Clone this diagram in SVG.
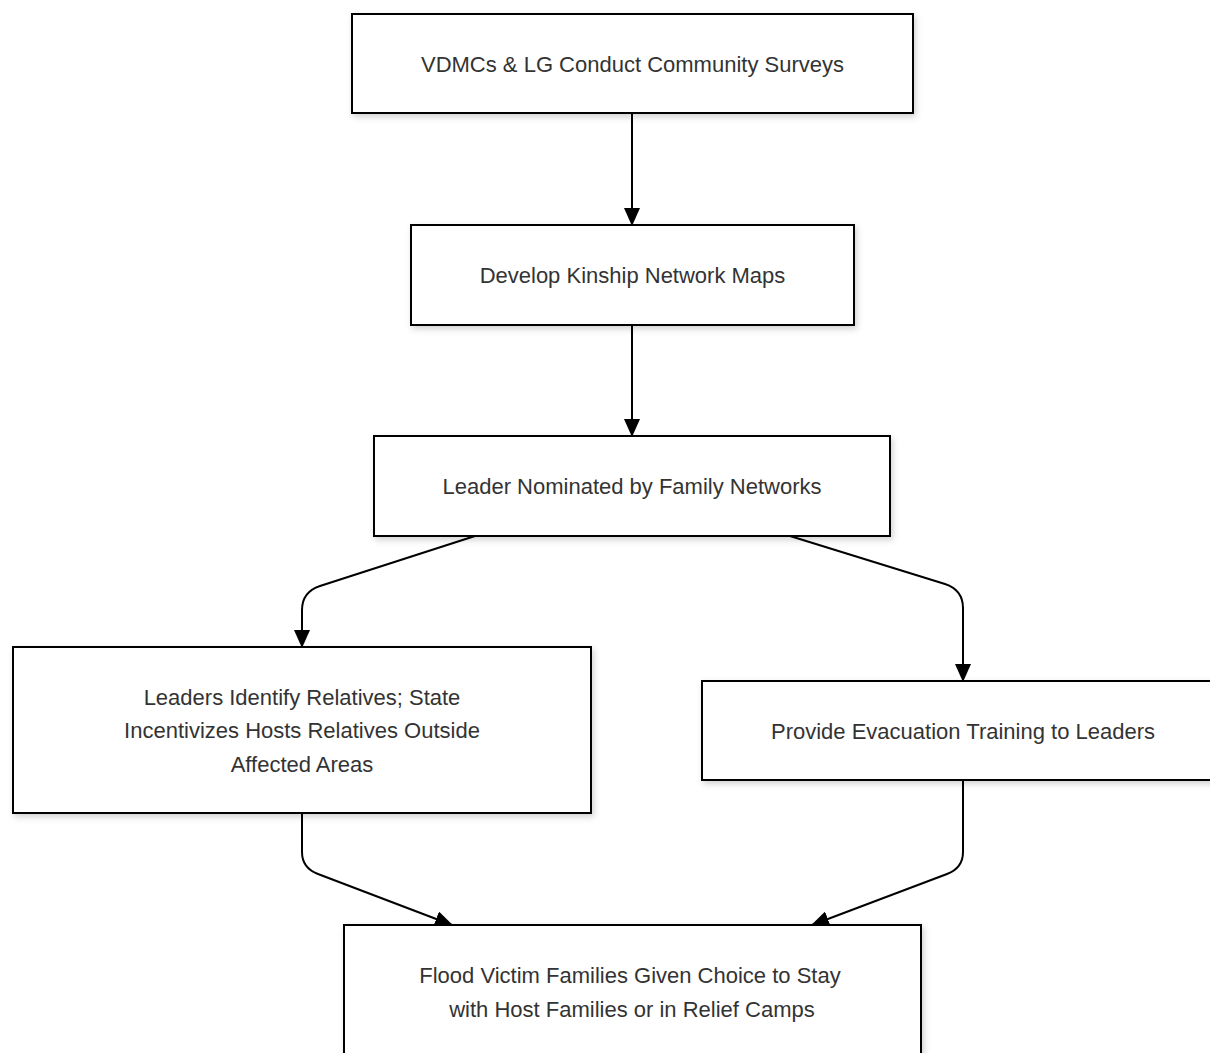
<svg xmlns="http://www.w3.org/2000/svg" width="1210" height="1053" viewBox="0 0 1210 1053">
  <style>
    .box { fill: #ffffff; stroke: #000000; stroke-width: 2; filter: url(#shadow); }
    .label { font-family: "Liberation Sans", Arial, sans-serif; font-size: 22px; fill: #333333; text-anchor: middle; }
    .edge { fill: none; stroke: #000000; stroke-width: 2; marker-end: url(#arrow); }
  </style>
  <defs>
    <filter id="shadow" x="-10%" y="-10%" width="120%" height="130%">
      <feDropShadow dx="2" dy="3" stdDeviation="3" flood-color="#000000" flood-opacity="0.18"/>
    </filter>
    <marker id="arrow" viewBox="0 0 18 16" refX="17" refY="8" markerWidth="18" markerHeight="16" markerUnits="userSpaceOnUse" orient="auto">
      <path d="M0,0 L18,8 L0,16 Z" fill="#000000"/>
    </marker>
  </defs>

  <!-- connectors -->
  <g id="edges">
    <path class="edge" d="M632,113 L632,225"/>
    <path class="edge" d="M632,325 L632,436"/>
    <path class="edge" d="M475,536 L320,586 Q302,592 302,610 L302,647"/>
    <path class="edge" d="M790,536 L945,584 Q963,590 963,608 L963,681"/>
    <path class="edge" d="M302,813 L302,852 Q302,868 318,874 L452,925"/>
    <path class="edge" d="M963,780 L963,852 Q963,868 947,874 L812,925"/>
  </g>

  <!-- nodes -->
  <g id="surveys">
    <rect class="box" x="352" y="14" width="561" height="99"/>
    <text class="label" x="632.5" y="72">VDMCs &amp; LG Conduct Community Surveys</text>
  </g>
  <g id="kinship-maps">
    <rect class="box" x="411" y="225" width="443" height="100"/>
    <text class="label" x="632.5" y="283">Develop Kinship Network Maps</text>
  </g>
  <g id="leader-nominated">
    <rect class="box" x="374" y="436" width="516" height="100"/>
    <text class="label" x="632" y="494">Leader Nominated by Family Networks</text>
  </g>
  <g id="identify-relatives">
    <rect class="box" x="13" y="647" width="578" height="166"/>
    <text class="label" x="302" y="705">Leaders Identify Relatives; State</text>
    <text class="label" x="302" y="738">Incentivizes Hosts Relatives Outside</text>
    <text class="label" x="302" y="772">Affected Areas</text>
  </g>
  <g id="evacuation-training">
    <rect class="box" x="702" y="681" width="522" height="99"/>
    <text class="label" x="963" y="739">Provide Evacuation Training to Leaders</text>
  </g>
  <g id="host-choice">
    <rect class="box" x="344" y="925" width="577" height="134"/>
    <text class="label" x="630" y="983">Flood Victim Families Given Choice to Stay</text>
    <text class="label" x="632" y="1017">with Host Families or in Relief Camps</text>
  </g>
</svg>
